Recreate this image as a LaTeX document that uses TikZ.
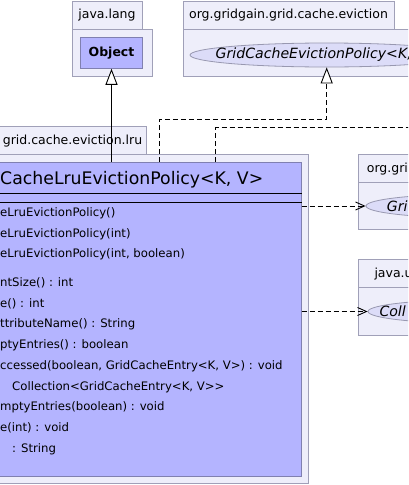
\documentclass[tikz,border=0pt]{standalone}
\usepackage{fontspec}
\setmainfont{DejaVu Sans}
\usetikzlibrary{arrows.meta,shapes.geometric}
\definecolor{pkgfill}{HTML}{EEEEFA}
\definecolor{pkgline}{HTML}{A0A0B8}
\definecolor{clsfill}{HTML}{B4B4FF}
\definecolor{clsline}{HTML}{8080B0}
\definecolor{ifcfill}{HTML}{DCDCF8}
\definecolor{ifcline}{HTML}{9898B0}
\begin{document}
\begin{tikzpicture}[x=1pt,y=-1pt,
  pkg/.style={draw=pkgline, fill=pkgfill, line width=1pt, rectangle, inner sep=0pt},
  cls/.style={draw=clsline, fill=clsfill, line width=1pt, rectangle, inner sep=0pt},
  ifc/.style={draw=ifcline, fill=ifcfill, line width=0.8pt, ellipse, inner sep=0pt},
  lbl/.style={font=\fontsize{12.5}{14}\selectfont, inner sep=0pt, text=black},
  mth/.style={font=\fontsize{11.7}{14}\selectfont, inner sep=0pt, anchor=base west},
  itl/.style={font=\fontsize{14.1}{16}\selectfont\itshape, inner sep=0pt},
  conn/.style={line width=0.9pt, black},
  inherit/.style={conn, -{Triangle[open, fill=white, length=16pt, width=12pt]}},
  realize/.style={conn, dash pattern=on 5pt off 3pt, -{Triangle[open, fill=white, length=16pt, width=12pt]}},
  depend/.style={conn, dash pattern=on 5pt off 3pt, -{Straight Barb[length=9pt, width=8pt]}},
]
\useasboundingbox (0,0) rectangle (408,485);
\clip (0,0) rectangle (408,485);

% java.lang package
\node[pkg, minimum width=80pt, minimum height=47pt] (langBody) at (112,52.5) {};
\node[pkg, lbl, minimum width=70pt, minimum height=28pt] (langTab) at (107,15) {java.lang};
\node[cls, minimum width=61.6pt, minimum height=31pt, font=\bfseries\fontsize{12.5}{14}\selectfont] (object) at (111.5,52.8) {Object};

% org.gridgain.grid.cache.eviction package
\node[pkg, minimum width=247pt, minimum height=47pt] (evBody) at (306.5,52.5) {};
\node[pkg, lbl, minimum width=211pt, minimum height=28pt] (evTab) at (288.5,15) {org.gridgain.grid.cache.eviction};
\node[ifc, minimum width=273.4pt, minimum height=24pt] (evIfc) at (326.7,55) {};
\node[itl] (evIfcLbl) at (evIfc.center) {GridCacheEvictionPolicy<K, V>};

% lru package
\node[pkg, minimum width=328pt, minimum height=329pt] (lruBody) at (144,318.5) {};
\node[pkg, minimum width=166pt, minimum height=28pt] (lruTab) at (63,140) {};
\node[lbl, anchor=base west] (lruLbl) at (2.7,144) {grid.cache.eviction.lru};

% class
\node[cls, minimum width=321pt, minimum height=314pt] (cls) at (140.5,319) {};
\node[inner sep=0pt, anchor=base west, font=\fontsize{17.3}{20}\selectfont] (clsName) at (0,184.5) {CacheLruEvictionPolicy<K, V>};
\draw[black, line width=1pt] ([yshift=-32pt]cls.north west) -- ([yshift=-32pt]cls.north east);
\draw[black, line width=1pt] ([yshift=-41pt]cls.north west) -- ([yshift=-41pt]cls.north east);

\node[mth] (c1) at (0,216.5) {eLruEvictionPolicy()};
\node[mth] (c2) at (0,237.2) {eLruEvictionPolicy(int)};
\node[mth] (c3) at (0,257.9) {eLruEvictionPolicy(int, boolean)};
\node[mth] (m1) at (0,286.5) {ntSize() : int};
\node[mth] (m2) at (0,307.2) {e() : int};
\node[mth] (m3) at (0,327.9) {ttributeName() : String};
\node[mth] (m4) at (0,348.6) {ptyEntries() : boolean};
\node[mth] (m5) at (0,369.3) {ccessed(boolean, GridCacheEntry<K, V>) : void};
\node[mth] (m6) at (12,390.0) {Collection<GridCacheEntry<K, V>{}>};
\node[mth] (m7) at (0,410.7) {mptyEntries(boolean) : void};
\node[mth] (m8) at (0,431.4) {e(int) : void};
\node[mth] (m9) at (12,452.1) {: String};

% right packages
\node[pkg, minimum width=112pt, minimum height=47pt] (p1Body) at (414,205.5) {};
\node[pkg, minimum width=112pt, minimum height=28pt] (p1Tab) at (414,168) {};
\node[lbl, anchor=base west] (p1Lbl) at (366.7,172.5) {org.gri};
\node[ifc, minimum width=220pt, minimum height=24pt] (p1Ifc) at (476,206) {};
\node[itl, anchor=base west] (p1IfcLbl) at (386.7,211) {Gri};

\node[pkg, minimum width=112pt, minimum height=48pt] (p2Body) at (414,311.2) {};
\node[pkg, minimum width=112pt, minimum height=28pt] (p2Tab) at (414,273.3) {};
\node[lbl, anchor=base west] (p2Lbl) at (374.3,277.5) {java.ut};
\node[ifc, minimum width=220pt, minimum height=24pt] (p2Ifc) at (478,311.5) {};
\node[itl, anchor=base west] (p2IfcLbl) at (379.3,316.5) {Coll};

% connectors
\coordinate (r1) at (159.3,119);
\coordinate (r2) at (215.3,127.7);
\coordinate (offR) at (420,127.7);
\draw[inherit] (cls.north -| object.south) -- (object.south);
\draw[realize] (cls.north -| r1) -- (r1) -| (evIfc.south);
\draw[conn, dash pattern=on 5pt off 3pt] (cls.north -| r2) -- (r2) -- (offR);
\draw[depend] (cls.east |- p1Ifc.west) -- (p1Ifc.west);
\draw[depend] (cls.east |- p2Ifc.west) -- (p2Ifc.west);
\end{tikzpicture}
\end{document}
